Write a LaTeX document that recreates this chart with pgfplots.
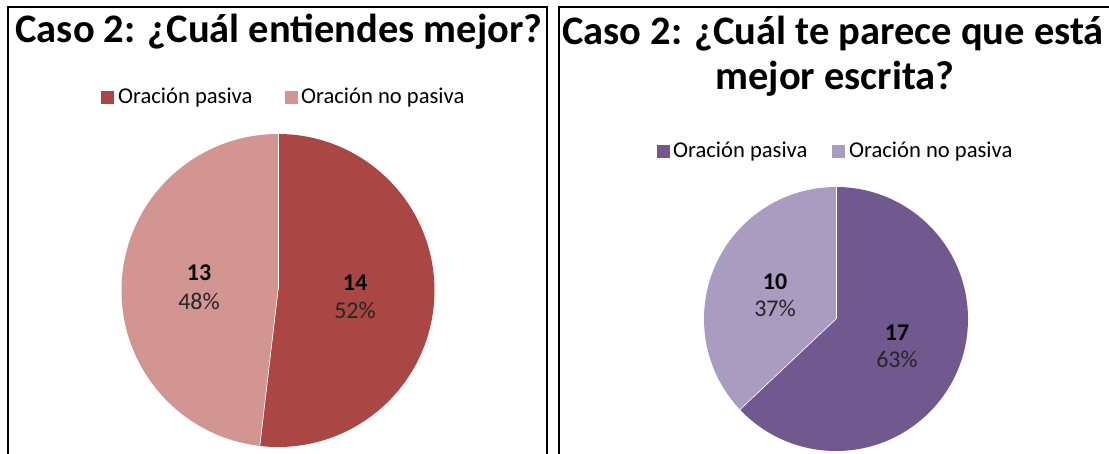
\documentclass[border=0pt]{standalone}
\usepackage{pgfplots}
\pgfplotsset{compat=1.18}
\usepackage{fontspec}
\setmainfont{Carlito}
\definecolor{rojoA}{HTML}{AA4643}
\definecolor{rojoB}{HTML}{D39592}
\definecolor{moradoA}{HTML}{71588F}
\definecolor{moradoB}{HTML}{AA9CC0}
% data: Caso 2
\def\IzqPasiva{14}\def\IzqNoPasiva{13}
\def\DerPasiva{17}\def\DerNoPasiva{10}
\begin{document}
\begin{tikzpicture}
\useasboundingbox (0,0) rectangle (1109pt,454pt);
\begin{axis}[
  at={(0,0)}, anchor=south west,
  width=1109pt, height=454pt, scale only axis,
  xmin=0, xmax=1109, ymin=0, ymax=454, y dir=reverse,
  hide axis, clip=false]
  % ---- left pie
  \pgfmathsetmacro\aL{360*\IzqPasiva/(\IzqPasiva+\IzqNoPasiva)}
  \fill[rojoA] (axis cs:278,290.5) -- ++(90:156.5pt) arc[start angle=90, end angle={90-\aL}, radius=156.5pt] -- cycle;
  \fill[rojoB] (axis cs:278,290.5) -- ++({90-\aL}:156.5pt) arc[start angle={90-\aL}, end angle=-270, radius=156.5pt] -- cycle;
  \draw[white, line width=0.6pt] (axis cs:278,290.5) -- ++(90:156.5pt);
  \draw[white, line width=0.6pt] (axis cs:278,290.5) -- ++({90-\aL}:156.5pt);
  % ---- right pie
  \pgfmathsetmacro\aR{360*\DerPasiva/(\DerPasiva+\DerNoPasiva)}
  \fill[moradoA] (axis cs:836,319) -- ++(90:132pt) arc[start angle=90, end angle={90-\aR}, radius=132pt] -- cycle;
  \fill[moradoB] (axis cs:836,319) -- ++({90-\aR}:132pt) arc[start angle={90-\aR}, end angle=-270, radius=132pt] -- cycle;
  \draw[white, line width=0.6pt] (axis cs:836,319) -- ++(90:132pt);
  \draw[white, line width=0.6pt] (axis cs:836,319) -- ++({90-\aR}:132pt);
  % ---- titles
  \node[anchor=base, font=\fontsize{40.5}{48}\selectfont\bfseries] at (axis cs:279,43) {Caso 2: ¿Cuál entiendes mejor?};
  \node[anchor=base, font=\fontsize{40.5}{48}\selectfont\bfseries] at (axis cs:833,45) {Caso 2: ¿Cuál te parece que está};
  \node[anchor=base, font=\fontsize{40.5}{48}\selectfont\bfseries] at (axis cs:835,90) {mejor escrita?};
  % ---- legends
  \fill[rojoA] (axis cs:101,91) rectangle (axis cs:114,104);
  \node[anchor=base west, inner sep=0pt, font=\fontsize{22.6}{26}\selectfont] at (axis cs:118,104) {Oración pasiva};
  \fill[rojoB] (axis cs:285,91) rectangle (axis cs:298,104);
  \node[anchor=base west, inner sep=0pt, font=\fontsize{22.6}{26}\selectfont] at (axis cs:301,104) {Oración no pasiva};
  \fill[moradoA] (axis cs:657,145) rectangle (axis cs:670,158);
  \node[anchor=base west, inner sep=0pt, font=\fontsize{22.6}{26}\selectfont] at (axis cs:673,158) {Oración pasiva};
  \fill[moradoB] (axis cs:832,145) rectangle (axis cs:845,158);
  \node[anchor=base west, inner sep=0pt, font=\fontsize{22.6}{26}\selectfont] at (axis cs:849,158) {Oración no pasiva};
  % ---- data labels
  \node[font=\fontsize{24}{28}\selectfont\bfseries] at (axis cs:355,283) {\IzqPasiva};
  \node[font=\fontsize{24}{28}\selectfont, text=black!85] at (axis cs:355,310) {52\%};
  \node[font=\fontsize{24}{28}\selectfont\bfseries] at (axis cs:199,273) {\IzqNoPasiva};
  \node[font=\fontsize{24}{28}\selectfont, text=black!85] at (axis cs:199,301) {48\%};
  \node[font=\fontsize{24}{28}\selectfont\bfseries] at (axis cs:897,333) {\DerPasiva};
  \node[font=\fontsize{24}{28}\selectfont, text=black!85] at (axis cs:897,359) {63\%};
  \node[font=\fontsize{24}{28}\selectfont\bfseries] at (axis cs:775,282) {\DerNoPasiva};
  \node[font=\fontsize{24}{28}\selectfont, text=black!85] at (axis cs:775,308) {37\%};
  % ---- panel borders
  \draw[black, line width=1.5pt] (axis cs:8,460) -- (axis cs:8,7) -- (axis cs:547,7) -- (axis cs:547,460);
  \draw[black, line width=1.5pt] (axis cs:559,460) -- (axis cs:559,7) -- (axis cs:1115,7);
\end{axis}
\end{tikzpicture}
\end{document}
